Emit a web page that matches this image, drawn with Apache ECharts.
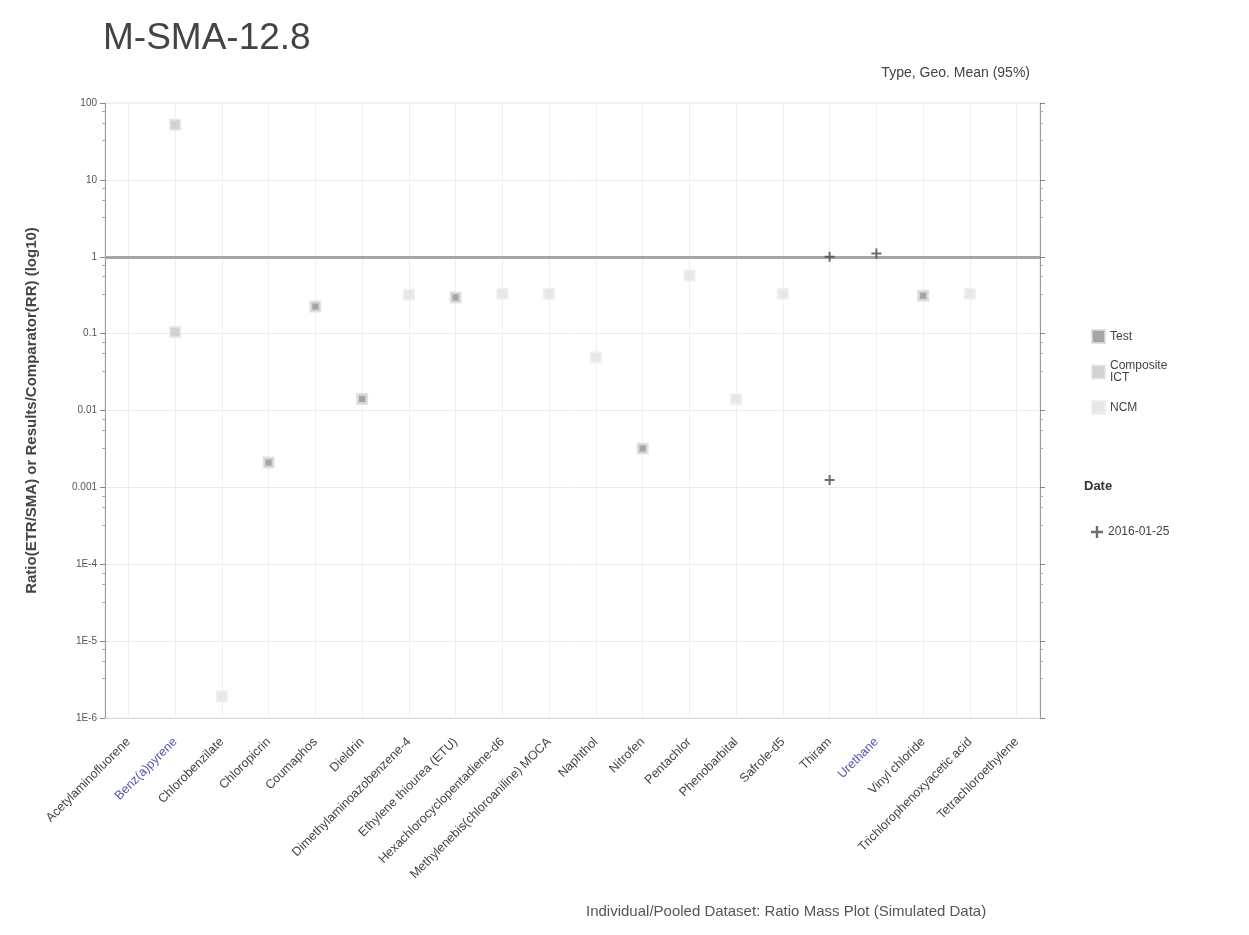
<!DOCTYPE html>
<html>
<head>
<meta charset="utf-8">
<script src="https://cdn.jsdelivr.net/npm/echarts@6/dist/echarts.min.js"></script>
<style>html,body{margin:0;padding:0;background:#fff}#c{width:1249px;height:935px}</style>
</head>
<body>
<div id="c"></div>
<script>
const categories = [
  "Acetylaminofluorene", "Benz(a)pyrene", "Chlorobenzilate", "Chloropicrin", "Coumaphos",
  "Dieldrin", "Dimethylaminoazobenzene-4", "Ethylene thiourea (ETU)", "Hexachlorocyclopentadiene-d6",
  "Methylenebis(chloroaniline) MOCA", "Naphthol", "Nitrofen", "Pentachlor", "Phenobarbital",
  "Safrole-d5", "Thiram", "Urethane", "Vinyl chloride", "Trichlorophenoxyacetic acid", "Tetrachloroethylene"
];
const blueCategories = ["Benz(a)pyrene", "Urethane"];
const yTickValues = [100, 10, 1, 0.1, 0.01, 0.001, 0.0001, 0.00001, 0.000001];

// [category index, value]
const testValues = [[3, 0.0021], [4, 0.226], [5, 0.0141], [7, 0.295], [11, 0.0032], [17, 0.31]];
const compositeValues = [[1, 52], [1, 0.105]];
const ncmValues = [[2, 0.0000019], [6, 0.32], [8, 0.33], [9, 0.33], [10, 0.049], [12, 0.57], [13, 0.014], [14, 0.33], [18, 0.33]];
const dateValues = [[15, 1.0], [15, 0.00125], [16, 1.1]];
const referenceLine = 1;

const chart = echarts.init(document.getElementById('c'), null, {renderer: 'canvas'});

function fmt(v) {
  const e = Math.round(Math.log10(v));
  if (e >= 0) return String(Math.pow(10, e));
  if (e >= -3) return Math.pow(10, e).toFixed(-e);
  return '1E' + e;
}

const plusPath = 'path://M4,0 L6,0 L6,4 L10,4 L10,6 L6,6 L6,10 L4,10 L4,6 L0,6 L0,4 L4,4 Z';

const yAxisCommon = {
  type: 'log', logBase: 10, min: 0.000001, max: 100, splitNumber: 8,
  axisLine: {show: true, lineStyle: {color: '#999', width: 1}},
  axisTick: {show: true, length: 5, lineStyle: {color: '#888'}},
  minorTick: {show: true, splitNumber: 4, length: 3, lineStyle: {color: '#aaa'}},
};

chart.setOption({
  animation: false,
  backgroundColor: '#fff',
  textStyle: {fontFamily: 'Liberation Sans, Arial, sans-serif'},
  grid: {left: 105, right: 209, top: 103, bottom: 217, show: false},
  graphic: [
    {type: 'text', left: 103, top: 20, style: {text: 'M-SMA-12.8', font: '37px Liberation Sans, Arial', fill: '#444'}},
    {type: 'text', right: 219, top: 66, style: {text: 'Type, Geo. Mean (95%)', font: '14px Liberation Sans, Arial', fill: '#444', textAlign: 'right'}},
    {type: 'text', left: 1084, top: 480, style: {text: 'Date', font: 'bold 13px Liberation Sans, Arial', fill: '#333'}},
    {type: 'text', left: 586, top: 904, style: {text: 'Individual/Pooled Dataset: Ratio Mass Plot (Simulated Data)', font: '15px Liberation Sans, Arial', fill: '#555'}},
    {type: 'rect', shape: {x: 105, y: 103, width: 935, height: 615}, style: {fill: 'none', stroke: '#e6e6e6', lineWidth: 1}, z: -1}
  ],
  legend: [
    {
      data: ['Test', 'Composite\nICT', 'NCM'],
      orient: 'vertical', left: 1086, top: 324, itemWidth: 13, itemHeight: 13, itemGap: 16,
      icon: 'rect', textStyle: {fontSize: 12, color: '#444'}, selectedMode: false
    },
    {
      data: ['2016-01-25'],
      orient: 'vertical', left: 1086, top: 521, itemWidth: 12, itemHeight: 12,
      textStyle: {fontSize: 12, color: '#444'}, selectedMode: false
    }
  ],
  xAxis: {
    type: 'category', data: categories, boundaryGap: true,
    axisLine: {show: true, lineStyle: {color: '#ddd'}},
    axisTick: {show: false, alignWithLabel: true},
    splitLine: {show: true, alignWithLabel: true, lineStyle: {color: '#f0f0f0', width: 1}},
    axisLabel: {
      rotate: 45, interval: 0, margin: 22, fontSize: 12.5,
      color: function (v) { return blueCategories.indexOf(v) >= 0 ? '#5555b0' : '#444'; }
    }
  },
  yAxis: [
    Object.assign({}, yAxisCommon, {
      position: 'left',
      name: 'Ratio(ETR/SMA) or Results/Comparator(RR) (log10)',
      nameLocation: 'middle', nameGap: 66,
      nameTextStyle: {fontSize: 15, fontWeight: 'bold', color: '#444'},
      axisLabel: {fontSize: 10, color: '#555', formatter: fmt, margin: 8},
      splitLine: {show: true, lineStyle: {color: '#ececec'}}
    }),
    Object.assign({}, yAxisCommon, {
      position: 'right',
      axisLabel: {show: false},
      splitLine: {show: false}
    })
  ],
  series: [
    {
      name: 'Test', type: 'scatter', data: testValues, symbol: 'rect', symbolSize: 9,
      itemStyle: {color: '#8e8e8e', borderColor: '#dcdcdc', borderWidth: 3}, z: 4,
      markLine: {
        silent: true, symbol: 'none', label: {show: false},
        lineStyle: {color: '#a6a6a6', width: 3, type: 'solid'},
        data: [{yAxis: referenceLine}]
      }
    },
    {
      name: 'Composite\nICT', type: 'scatter', data: compositeValues, symbol: 'rect', symbolSize: 10,
      itemStyle: {color: '#c8c8c8', borderColor: '#e4e4e4', borderWidth: 2}, z: 3
    },
    {
      name: 'NCM', type: 'scatter', data: ncmValues, symbol: 'rect', symbolSize: 10,
      itemStyle: {color: '#e2e2e2', borderColor: '#eeeeee', borderWidth: 2}, z: 3
    },
    {
      name: '2016-01-25', type: 'scatter', data: dateValues, symbol: plusPath, symbolSize: 10,
      itemStyle: {color: '#4a4a4a'}, z: 5
    }
  ]
});
</script>
</body>
</html>
